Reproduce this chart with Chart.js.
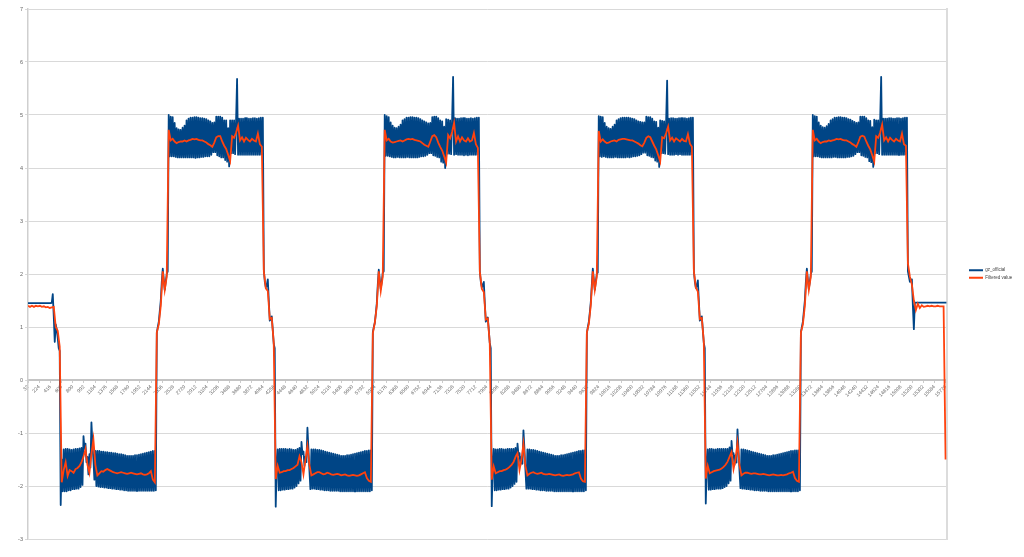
<!DOCTYPE html>
<html>
<head>
<meta charset="utf-8">
<script src="https://cdn.jsdelivr.net/npm/chart.js@4.4.1/dist/chart.umd.min.js"></script>
<style>
  html, body { margin: 0; padding: 0; background: #fff; }
  #wrap { width: 1024px; height: 557px; }
</style>
</head>
<body>
<div id="wrap"><canvas id="myChart" width="1024" height="557"></canvas></div>
<script>
// series names as shown in the legend
const seriesNames = ['gz_official', 'Filtered value'];

// sample numbering: both series start at row 32,
// raw values kept every 17 rows, filtered values every 34 rows
const firstSample = 32;
const rawStep = 17;
const filteredStep = 34;

// category labels printed along the 0 line
const xTicks = [32, 224, 416, 608, 800, 992, 1184, 1376, 1568, 1760, 1952, 2144, 2336, 2528, 2720, 2912,
  3104, 3296, 3488, 3680, 3872, 4064, 4256, 4448, 4640, 4832, 5024, 5216, 5408, 5600, 5792, 5984, 6176,
  6368, 6560, 6752, 6944, 7136, 7328, 7520, 7712, 7904, 8096, 8288, 8480, 8672, 8864, 9056, 9248, 9440,
  9632, 9824, 10016, 10208, 10400, 10592, 10784, 10976, 11168, 11360, 11552, 11744, 11936, 12128, 12320,
  12512, 12704, 12896, 13088, 13280, 13472, 13664, 13856, 14048, 14240, 14432, 14624, 14816, 15008,
  15200, 15392, 15584, 15776];

// raw gyro value
const gzOfficial = [
  // lead-in
  1.45, 1.45, 1.45, 1.45, 1.45, 1.45, 1.45, 1.45, 1.45, 1.45, 1.45, 1.45, 1.45, 1.45, 1.45, 1.45,
  1.45, 1.45, 1.45, 1.45, 1.45, 1.45, 1.45, 1.45, 1.46, 1.62, 1.2, 0.72, 1.05, 0.95, 0.8, 0.6,
  0.55, -2.36, -1.5, -2.1,
  // low 1
  -1.31, -2.1, -1.3, -2.1, -1.3, -2.08, -1.31, -2.08, -1.32, -2.06, -1.31, -2.06, -1.3, -2.05, -1.3, -2.05,
  -1.29, -2.02, -1.28, -1.98,
  -1.06, -1.3, -1.2, -1.55, -1.45, -1.78, -1.4, -1.65, -0.8, -1.2, -1.5, -1.88,
  -1.34, -2.0, -1.34, -2.01, -1.34, -2.02, -1.35, -2.02, -1.35, -2.03, -1.36, -2.03, -1.36, -2.04, -1.37, -2.04,
  -1.37, -2.05, -1.38, -2.05, -1.38, -2.06, -1.39, -2.06, -1.4, -2.07, -1.4, -2.07, -1.41, -2.08, -1.42, -2.08,
  -1.43, -2.09, -1.43, -2.09, -1.43, -2.09, -1.43, -2.09, -1.42, -2.09, -1.42, -2.09, -1.41, -2.09, -1.4, -2.09,
  -1.39, -2.09, -1.38, -2.09, -1.37, -2.09, -1.36, -2.09, -1.35, -2.09, -1.34, -2.09, -1.34, -2.08,
  // rise 1
  0.89, 1.0, 1.1, 1.3, 1.5, 1.85, 2.1, 1.9, 1.7, 1.85, 2.0, 2.05, 5.0, 4.22,
  // high 1
  4.97, 4.22, 4.96, 4.22,
  4.85, 4.21, 4.75, 4.2, 4.73, 4.2, 4.72, 4.2, 4.76, 4.2, 4.8, 4.2,
  4.9, 4.2, 4.93, 4.2, 4.95, 4.2, 4.95, 4.2, 4.96, 4.19, 4.96, 4.2, 4.95, 4.2, 4.94, 4.21, 4.94, 4.21,
  4.93, 4.22, 4.92, 4.22, 4.9, 4.22, 4.88, 4.25,
  4.85, 4.3, 4.86, 4.3,
  4.97, 4.24, 4.97, 4.22, 4.97, 4.2, 4.95, 4.2,
  4.9, 4.15, 4.9, 4.12,
  4.75, 4.03,
  4.9, 4.28, 4.9, 4.28, 4.9, 4.26,
  4.9, 5.68,
  4.25, 4.93, 4.25, 4.93, 4.25, 4.93, 4.25, 4.94, 4.25, 4.94, 4.25, 4.93, 4.25, 4.93, 4.25, 4.94, 4.25, 4.94,
  4.25, 4.93, 4.25, 4.94, 4.25, 4.95, 4.26, 4.95,
  // fall 1
  2.08, 1.85, 1.75, 1.8, 1.9, 1.5, 1.12, 1.15, 1.2, 0.95, 0.68, 0.6, -2.39, -1.6,
  // low 2
  -1.31, -2.08, -1.3, -2.08, -1.3, -2.07, -1.3, -2.07, -1.3, -2.06, -1.31, -2.06, -1.3, -2.05, -1.31, -2.05,
  -1.32, -2.03, -1.32, -2.0, -1.3, -1.95, -1.28, -1.9,
  -1.17, -1.4, -1.35, -1.62, -1.45, -1.55, -0.9, -1.3, -1.7, -2.06,
  -1.31, -2.05, -1.31, -2.05, -1.31, -2.06, -1.32, -2.06, -1.32, -2.07, -1.33, -2.07, -1.34, -2.08, -1.35, -2.08,
  -1.36, -2.08, -1.37, -2.09, -1.38, -2.09, -1.39, -2.09, -1.4, -2.09, -1.41, -2.09, -1.42, -2.1, -1.43, -2.1,
  -1.43, -2.1, -1.43, -2.1, -1.42, -2.1, -1.42, -2.1, -1.41, -2.1, -1.4, -2.1, -1.39, -2.1, -1.38, -2.1,
  -1.37, -2.1, -1.36, -2.1, -1.35, -2.1, -1.34, -2.1, -1.34, -2.1, -1.33, -2.1, -1.33, -2.08,
  // rise 2
  0.9, 1.0, 1.08, 1.25, 1.45, 1.8, 2.08, 1.9, 1.72, 1.85, 2.02, 2.05, 5.0, 4.23,
  // high 2
  4.98, 4.23, 4.96, 4.22,
  4.86, 4.21, 4.8, 4.2, 4.76, 4.2, 4.75, 4.21, 4.78, 4.2, 4.82, 4.2,
  4.9, 4.2, 4.92, 4.2, 4.95, 4.21, 4.95, 4.2, 4.96, 4.2, 4.96, 4.2, 4.95, 4.2, 4.95, 4.2, 4.94, 4.21,
  4.92, 4.22, 4.9, 4.22, 4.88, 4.23, 4.86, 4.25,
  4.84, 4.28, 4.85, 4.28,
  4.96, 4.24, 4.97, 4.23, 4.97, 4.21, 4.94, 4.2,
  4.9, 4.12, 4.88, 4.1,
  4.78, 4.0,
  4.92, 4.27, 4.91, 4.27, 4.9, 4.26,
  4.9, 5.72,
  4.25, 4.94, 4.26, 4.93, 4.25, 4.93, 4.25, 4.94, 4.25, 4.94, 4.24, 4.94, 4.25, 4.93, 4.24, 4.93, 4.25, 4.94,
  4.25, 4.93, 4.25, 4.94, 4.25, 4.95, 4.26, 4.95,
  // fall 2
  2.05, 1.85, 1.75, 1.8, 1.85, 1.45, 1.1, 1.14, 1.18, 0.95, 0.7, 0.6, -2.38, -1.6,
  // low 3
  -1.3, -2.08, -1.31, -2.08, -1.31, -2.07, -1.3, -2.07, -1.3, -2.06, -1.31, -2.06, -1.31, -2.05, -1.3, -2.05,
  -1.3, -2.03, -1.3, -2.0, -1.3, -1.96, -1.28, -1.92,
  -1.2, -1.42, -1.38, -1.6, -1.45, -1.58, -0.95, -1.3, -1.7, -2.05,
  -1.31, -2.05, -1.31, -2.05, -1.32, -2.06, -1.32, -2.06, -1.33, -2.07, -1.34, -2.07, -1.35, -2.08, -1.36, -2.08,
  -1.37, -2.08, -1.38, -2.09, -1.39, -2.09, -1.4, -2.09, -1.41, -2.09, -1.42, -2.1, -1.43, -2.1, -1.43, -2.1,
  -1.43, -2.1, -1.42, -2.1, -1.42, -2.1, -1.41, -2.1, -1.4, -2.1, -1.39, -2.1, -1.38, -2.1, -1.37, -2.1,
  -1.36, -2.1, -1.35, -2.1, -1.34, -2.1, -1.34, -2.1, -1.33, -2.1, -1.33, -2.08,
  // rise 3
  0.88, 1.0, 1.1, 1.28, 1.48, 1.8, 2.1, 1.9, 1.7, 1.85, 2.0, 2.03, 4.98, 4.22,
  // high 3
  4.97, 4.21, 4.96, 4.22,
  4.85, 4.21, 4.78, 4.2, 4.75, 4.2, 4.74, 4.2, 4.78, 4.2, 4.82, 4.21,
  4.9, 4.2, 4.92, 4.2, 4.94, 4.2, 4.95, 4.2, 4.95, 4.2, 4.95, 4.21, 4.95, 4.2, 4.94, 4.21, 4.93, 4.22,
  4.92, 4.22, 4.9, 4.23, 4.88, 4.24, 4.87, 4.26,
  4.86, 4.29, 4.86, 4.29,
  4.97, 4.24, 4.96, 4.23, 4.96, 4.21, 4.93, 4.2,
  4.88, 4.14, 4.87, 4.12,
  4.76, 4.02,
  4.9, 4.28, 4.89, 4.28, 4.88, 4.27,
  4.88, 5.65,
  4.26, 4.93, 4.25, 4.94, 4.25, 4.94, 4.25, 4.93, 4.26, 4.93, 4.25, 4.94, 4.26, 4.94, 4.25, 4.94, 4.25, 4.94,
  4.25, 4.93, 4.25, 4.94, 4.25, 4.95, 4.26, 4.95,
  // fall 3
  2.06, 1.85, 1.74, 1.8, 1.88, 1.5, 1.12, 1.15, 1.2, 0.95, 0.7, 0.6, -2.33, -1.6,
  // low 4
  -1.31, -2.07, -1.3, -2.07, -1.3, -2.06, -1.31, -2.06, -1.31, -2.05, -1.3, -2.05, -1.3, -2.05, -1.3, -2.04,
  -1.3, -2.02, -1.3, -2.0, -1.3, -1.95, -1.27, -1.9,
  -1.15, -1.4, -1.38, -1.6, -1.42, -1.56, -0.93, -1.3, -1.7, -2.04,
  -1.31, -2.05, -1.31, -2.05, -1.32, -2.06, -1.33, -2.06, -1.34, -2.07, -1.35, -2.07, -1.36, -2.08, -1.37, -2.08,
  -1.38, -2.08, -1.39, -2.09, -1.4, -2.09, -1.41, -2.09, -1.42, -2.09, -1.43, -2.1, -1.43, -2.1, -1.43, -2.1,
  -1.42, -2.1, -1.42, -2.1, -1.41, -2.1, -1.4, -2.1, -1.39, -2.1, -1.38, -2.1, -1.37, -2.1, -1.36, -2.1,
  -1.35, -2.1, -1.34, -2.1, -1.34, -2.1, -1.33, -2.1, -1.33, -2.1, -1.33, -2.08,
  // rise 4
  0.9, 1.0, 1.1, 1.3, 1.5, 1.85, 2.1, 1.9, 1.72, 1.85, 2.0, 2.05, 5.0, 4.22,
  // high 4
  4.98, 4.22, 4.97, 4.22,
  4.86, 4.21, 4.8, 4.2, 4.77, 4.2, 4.76, 4.2, 4.79, 4.2, 4.83, 4.2,
  4.9, 4.2, 4.92, 4.21, 4.95, 4.21, 4.95, 4.2, 4.96, 4.2, 4.96, 4.2, 4.95, 4.2, 4.95, 4.2, 4.94, 4.21,
  4.92, 4.21, 4.91, 4.22, 4.89, 4.23, 4.87, 4.26,
  4.85, 4.3, 4.86, 4.3,
  4.97, 4.24, 4.97, 4.23, 4.97, 4.21, 4.94, 4.2,
  4.9, 4.13, 4.89, 4.11,
  4.77, 4.02,
  4.91, 4.28, 4.9, 4.28, 4.9, 4.26,
  4.9, 5.72,
  4.25, 4.93, 4.25, 4.93, 4.25, 4.93, 4.25, 4.94, 4.25, 4.94, 4.25, 4.93, 4.25, 4.93, 4.25, 4.94, 4.25, 4.94,
  4.25, 4.93, 4.25, 4.94, 4.25, 4.95, 4.26, 4.95,
  // tail
  2.05, 1.95, 1.85, 1.88, 1.9, 1.4, 0.96, 1.46,
  1.46, 1.46, 1.46, 1.46, 1.46, 1.46, 1.46, 1.46, 1.46, 1.46, 1.46, 1.46, 1.46, 1.46, 1.46, 1.46,
  1.46, 1.46, 1.46, 1.46, 1.46, 1.46, 1.46, 1.46, 1.46, 1.46, 1.46, 1.46, 1.46, 1.46, 1.46, 1.46
];

// filtered value
const filteredValue = [
  // lead-in
  1.4, 1.38, 1.4, 1.38, 1.4, 1.39, 1.4, 1.38, 1.39, 1.37, 1.38, 1.36, 1.37, 1.38, 1.0, 0.93, 0.63, -1.93,
  // low 1
  -1.7, -1.55, -1.81, -1.7, -1.72, -1.75, -1.68, -1.66, -1.62, -1.55, -1.45, -1.3, -1.6, -1.75, -1.4, -1.12,
  -1.6, -1.8, -1.76, -1.72, -1.73, -1.7, -1.68, -1.7, -1.72, -1.74, -1.75, -1.76, -1.75, -1.74, -1.75, -1.76,
  -1.77, -1.76, -1.75, -1.76, -1.77, -1.78, -1.77, -1.76, -1.78, -1.79, -1.78, -1.76, -1.72, -1.88, -1.93,
  // rise 1
  0.9, 1.05, 1.4, 2.05, 1.7, 1.95, 4.72,
  // high 1
  4.52, 4.55, 4.5, 4.47, 4.49, 4.5, 4.5, 4.52, 4.5, 4.52, 4.53, 4.55, 4.54, 4.55, 4.53, 4.52, 4.52, 4.5, 4.48,
  4.45, 4.43, 4.4, 4.48, 4.58, 4.6, 4.6, 4.5, 4.42, 4.36, 4.25, 4.13, 4.6, 4.57, 4.67, 4.8, 4.52, 4.58, 4.5,
  4.57, 4.53, 4.5, 4.55, 4.52, 4.5, 4.65, 4.45, 4.4,
  // fall 1
  2.05, 1.73, 1.68, 1.15, 1.17, 0.7, -1.87,
  // low 2
  -1.62, -1.75, -1.74, -1.72, -1.72, -1.7, -1.7, -1.68, -1.66, -1.63, -1.6, -1.44, -1.55, -1.78, -1.5, -1.24,
  -1.6, -1.8, -1.78, -1.76, -1.74, -1.74, -1.76, -1.78, -1.77, -1.75, -1.76, -1.78, -1.79, -1.78, -1.77, -1.78,
  -1.8, -1.79, -1.78, -1.8, -1.81, -1.8, -1.79, -1.8, -1.81, -1.8, -1.78, -1.76, -1.74, -1.85, -1.9, -1.92,
  // rise 2
  0.88, 1.08, 1.4, 2.05, 1.68, 1.95, 4.72,
  // high 2
  4.52, 4.55, 4.5, 4.48, 4.49, 4.5, 4.51, 4.52, 4.5, 4.52, 4.54, 4.55, 4.54, 4.55, 4.53, 4.52, 4.51, 4.5, 4.47,
  4.44, 4.42, 4.4, 4.5, 4.6, 4.62, 4.58, 4.48, 4.4, 4.33, 4.22, 4.1, 4.62, 4.56, 4.68, 4.85, 4.5, 4.6, 4.5,
  4.58, 4.52, 4.5, 4.56, 4.5, 4.52, 4.66, 4.45, 4.38,
  // fall 2
  2.04, 1.72, 1.66, 1.14, 1.16, 0.7, -1.88,
  // low 3
  -1.63, -1.76, -1.74, -1.72, -1.72, -1.7, -1.69, -1.67, -1.64, -1.6, -1.55, -1.45, -1.38, -1.7, -1.5, -1.2,
  -1.62, -1.8, -1.77, -1.75, -1.74, -1.76, -1.77, -1.76, -1.75, -1.77, -1.78, -1.78, -1.77, -1.78, -1.79, -1.8,
  -1.79, -1.78, -1.8, -1.81, -1.8, -1.79, -1.8, -1.79, -1.78, -1.76, -1.75, -1.74, -1.86, -1.91, -1.92,
  // rise 3
  0.9, 1.06, 1.42, 2.05, 1.7, 1.95, 4.7,
  // high 3
  4.5, 4.54, 4.5, 4.47, 4.48, 4.5, 4.51, 4.52, 4.5, 4.53, 4.54, 4.55, 4.55, 4.54, 4.53, 4.52, 4.52, 4.5, 4.48,
  4.46, 4.43, 4.41, 4.48, 4.57, 4.6, 4.58, 4.5, 4.42, 4.35, 4.24, 4.12, 4.58, 4.56, 4.66, 4.78, 4.52, 4.57, 4.5,
  4.56, 4.53, 4.5, 4.55, 4.51, 4.5, 4.64, 4.46, 4.4,
  // fall 3
  2.05, 1.74, 1.67, 1.15, 1.17, 0.72, -1.86,
  // low 4
  -1.62, -1.76, -1.74, -1.72, -1.71, -1.7, -1.69, -1.67, -1.64, -1.6, -1.54, -1.45, -1.36, -1.68, -1.5, -1.18,
  -1.6, -1.8, -1.77, -1.75, -1.75, -1.76, -1.77, -1.76, -1.76, -1.77, -1.78, -1.78, -1.77, -1.78, -1.79, -1.8,
  -1.79, -1.78, -1.79, -1.8, -1.8, -1.79, -1.8, -1.79, -1.78, -1.76, -1.75, -1.73, -1.85, -1.9, -1.92,
  // rise 4
  0.9, 1.05, 1.4, 2.05, 1.7, 1.95, 4.72,
  // high 4
  4.52, 4.55, 4.5, 4.47, 4.49, 4.5, 4.5, 4.52, 4.51, 4.52, 4.53, 4.55, 4.54, 4.55, 4.53, 4.52, 4.52, 4.5, 4.48,
  4.45, 4.43, 4.4, 4.49, 4.59, 4.61, 4.59, 4.5, 4.42, 4.35, 4.24, 4.12, 4.6, 4.57, 4.67, 4.82, 4.52, 4.58, 4.5,
  4.57, 4.53, 4.5, 4.55, 4.52, 4.5, 4.65, 4.45, 4.42,
  // tail
  2.2, 1.95, 1.8, 1.5, 1.32, 1.44, 1.36, 1.41, 1.38, 1.39, 1.4, 1.39, 1.4, 1.39, 1.39, 1.4, 1.39, 1.39, 1.39, -1.5
];

Chart.defaults.font.family = "'Liberation Sans', Arial, sans-serif";
Chart.defaults.color = '#666';

//turn a list of values into x/y points along the sample numbers
function toPoints(values, step) {
  return values.map((v, i) => ({ x: firstSample + i * step, y: v }));
}

//the legend sits a bit away from the plot, like in the original
const legendGap = {
  id: 'legendGap',
  afterLayout(chart) {
    const lg = chart.legend;
    if (!lg) return;
    const dx = 966 - lg.left;
    lg.left += dx;
    lg.right += dx;
  }
};

const ctx = document.getElementById('myChart').getContext('2d');

const myChart = new Chart(ctx, {
  type: 'line',
  data: {
    datasets: [{
      label: seriesNames[0],
      data: toPoints(gzOfficial, rawStep),
      borderColor: '#004586',
      backgroundColor: '#004586',
      borderWidth: 1.8,
      borderJoinStyle: 'round',
      pointRadius: 0,
      tension: 0,
      order: 2
    },
    {
      label: seriesNames[1],
      data: toPoints(filteredValue, filteredStep),
      borderColor: '#ff420e',
      backgroundColor: '#ff420e',
      borderWidth: 1.8,
      pointRadius: 0,
      tension: 0,
      order: 1
    }
    ]
  },
  options: {
    responsive: false,
    animation: false,
    devicePixelRatio: 1,
    events: [],
    layout: {
      padding: { top: 9, right: 21, bottom: 18, left: 0 }
    },
    scales: {
      x: {
        type: 'linear',
        position: { y: 0 },
        min: firstSample,
        max: 15794,
        afterBuildTicks: scale => {
          scale.ticks = xTicks.map(v => ({ value: v }));
        },
        ticks: {
          autoSkip: false,
          minRotation: 45,
          maxRotation: 45,
          padding: 2,
          color: '#666',
          font: { size: 5 },
          callback: v => String(v)
        },
        grid: { drawOnChartArea: false, drawTicks: true, tickLength: 2, color: '#cccccc' },
        border: { color: '#c4c4c4', width: 2, dash: [1, 1] }
      },
      y: {
        min: -3,
        max: 7,
        ticks: { stepSize: 1, padding: 2, color: '#666', font: { size: 5.5 } },
        grid: { color: '#d9d9d9', lineWidth: 1, tickLength: 3 },
        border: { color: '#cfcfcf', width: 1.5 },
        afterFit: scale => { scale.width = 28; }
      },
      yRight: {
        position: 'right',
        min: -3,
        max: 7,
        ticks: { display: false },
        grid: { drawOnChartArea: false, drawTicks: false },
        border: { color: '#dcdcdc', width: 2 },
        afterFit: scale => { scale.width = 0; }
      }
    },
    plugins: {
      legend: {
        position: 'right',
        labels: {
          boxWidth: 14,
          boxHeight: 2,
          padding: 3,
          color: '#444',
          font: { size: 4.5 },
          sort: (a, b) => a.datasetIndex - b.datasetIndex,
          generateLabels: chart => Chart.defaults.plugins.legend.labels.generateLabels(chart)
            .map(item => Object.assign(item, { lineWidth: 0 }))
        }
      },
      title: { display: false },
      tooltip: { enabled: false }
    }
  },
  plugins: [legendGap]
});
</script>
</body>
</html>
